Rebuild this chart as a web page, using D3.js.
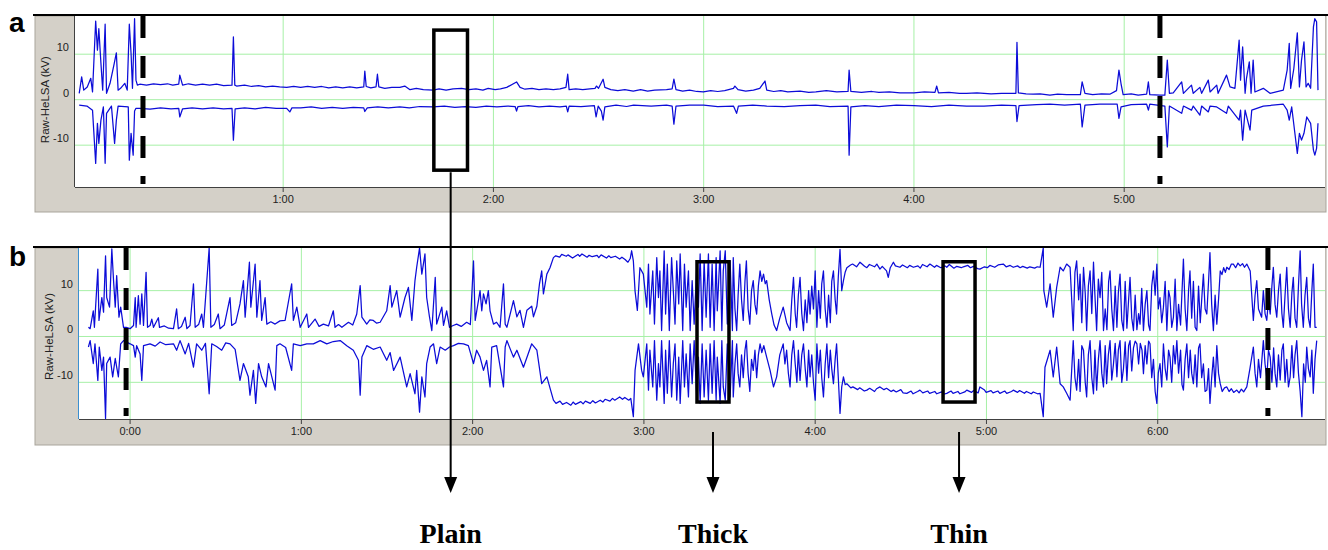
<!DOCTYPE html>
<html><head><meta charset="utf-8">
<script src="https://cdn.jsdelivr.net/npm/d3@7"></script>
<style>body{margin:0;background:#fff}svg{display:block}</style>
</head><body>
<svg id="c" width="1328" height="550"></svg>
<script>
// ---------- DATA (time in seconds, value in kV) ----------
const yTicks = [-10, 0, 10];
const xTicksA = [60, 120, 180, 240, 300];
const xTicksB = [0, 60, 120, 180, 240, 300, 360];
const tickLabel = s => Math.floor(s/60) + ":" + String(s%60).padStart(2,"0");

// Panel a: upper and lower traces
const aUpper = [[1.8,1.4],[2.5,5.0],[3.1,2.1],[4.1,2.8],[5.1,4.7],[5.6,1.7],[6.5,17.3],[7.0,10.9],[7.4,15.6],[8.0,8.0],[8.5,2.1],[9.2,16.6],[9.6,1.4],[10.6,3.6],[11.8,8.0],[12.4,10.3],[12.9,2.1],[13.6,2.5],[14.8,3.6],[15.5,2.1],[16.1,16.6],[16.6,10.1],[17.0,2.5],[17.6,17.8],[18.0,4.3],[18.4,3.2],[19.1,3.4],[21,3.2],[23,3.5],[25,3.3],[27,3.5],[28.5,3.2],[30.2,3.4],[30.5,5.4],[31.3,3.2],[33,3.5],[35,3.2],[37,3.4],[39,3.2],[41,3.4],[43,3.1],[45.4,3.2],[45.8,13.8],[46.2,3.2],[46.7,3.0],[49,3.2],[51,2.9],[53,3.1],[55,2.8],[57,3.0],[59,2.8],[61,2.7],[63,2.9],[65,2.7],[67,2.9],[69,2.7],[71,2.9],[73,2.6],[75,2.8],[77,2.6],[79,2.8],[81,2.6],[83,2.8],[83.3,6.3],[83.7,2.9],[85,2.6],[86.5,2.8],[86.9,5.6],[87.3,2.8],[89,2.5],[91,2.7],[93.3,2.7],[94.7,3.0],[96.2,2.2],[98,2.5],[100,2.2],[102.8,2.1],[104.5,2.4],[106.5,2.1],[108.5,2.4],[110.9,2.5],[113,2.2],[115,2.4],[117,2.1],[118.5,2.5],[120.5,2.2],[122,2.4],[123.8,2.7],[126.6,3.9],[127.6,2.7],[129,2.3],[131,2.5],[133,2.2],[135,2.4],[137.1,2.2],[139,2.4],[140.7,2.7],[141.2,5.6],[141.6,2.2],[143.5,2.4],[145.5,2.2],[147.5,2.4],[149,2.5],[149.4,3.0],[150,2.5],[151.3,4.5],[151.8,2.7],[153.5,2.2],[155.5,2.0],[157.5,2.2],[159.9,1.9],[162,2.2],[164,1.9],[166,2.1],[169.4,2.2],[171,2.4],[171.5,4.5],[172.1,2.2],[174,1.9],[176,2.1],[178,1.8],[179.9,1.7],[182,2.0],[184,1.8],[186,2.0],[188.5,2.5],[188.9,3.0],[189.8,2.2],[192,1.9],[194.2,2.1],[196,2.5],[197.5,4.1],[198,2.1],[200,1.8],[202,2.0],[204,1.7],[207.5,1.9],[210,1.6],[212,1.7],[215,2.0],[218,1.7],[221.2,1.8],[221.5,6.5],[222,1.8],[225,1.6],[228,1.8],[230,1.6],[233,1.7],[236,1.5],[240,1.5],[243,1.7],[246,1.6],[246.5,3.0],[247,1.5],[250,1.6],[253,1.4],[255,1.4],[258,1.5],[262,1.3],[265,1.4],[269.1,1.4],[269.4,12.6],[269.8,1.5],[272,1.3],[274,1.2],[276,1.3],[278.8,1.0],[281,1.2],[283.6,1.1],[287.5,1.1],[288,3.9],[288.8,1.4],[291,1.1],[293.5,1.3],[295.9,1.2],[297.8,2.0],[298.5,6.5],[299.1,3.5],[299.7,1.1],[302,1.3],[304,1.0],[306.4,1.2],[306.9,3.9],[307.3,1.1],[310.2,1.0],[311.6,1.0],[312.3,8.7],[312.9,1.4],[314,1.5],[316.4,3.9],[316.9,1.4],[319.2,3.2],[319.7,1.4],[321.6,2.7],[322.1,1.4],[324,4.3],[324.5,1.7],[326.4,3.2],[326.8,1.4],[329.2,5.4],[330.2,2.8],[331.6,2.5],[332.8,13.1],[333.2,4.3],[333.8,11.6],[334.5,1.4],[334.9,4.7],[335.7,8.3],[336.2,1.4],[336.8,8.7],[337.3,1.7],[339.7,2.5],[341.6,1.4],[345.4,2.1],[346.5,6.5],[347.1,12.4],[347.5,2.5],[348.4,6.8],[349.4,14.7],[350,2.8],[350.6,8.7],[351.3,12.7],[351.9,2.8],[352.5,3.6],[353.2,2.5],[354,16.0],[354.4,17.8],[354.9,17.1],[355.3,2.1]];
const aLower = [[1.8,-1.2],[4,-1.4],[5.6,-2.3],[6.5,-14.0],[7.0,-5.2],[7.4,-9.6],[8.0,-4.5],[8.7,-1.6],[9.2,-14.0],[9.6,-3.0],[11,-1.4],[11.9,-9.6],[12.4,-4.5],[12.9,-1.4],[15.8,-1.6],[16.1,-13.3],[16.6,-7.4],[17.2,-12.2],[17.6,-2.5],[18.0,-1.9],[19.1,-1.9],[22,-2.1],[25,-1.8],[28,-2.0],[30.2,-1.9],[30.5,-3.8],[31.3,-2.0],[34,-1.8],[37,-2.0],[40,-1.8],[43,-2.0],[45.4,-1.9],[45.8,-8.9],[46.3,-2.0],[49,-1.8],[52,-2.0],[55,-1.7],[58,-1.9],[61,-1.9],[61.9,-2.7],[62.5,-1.8],[65,-1.8],[68,-1.6],[71,-1.9],[74,-1.7],[77,-1.9],[80,-1.7],[83,-1.8],[83.3,-2.6],[84,-1.8],[87,-1.6],[90,-1.8],[93.3,-1.6],[96,-1.8],[99,-1.5],[102.8,-1.6],[106,-1.4],[109,-1.7],[112,-1.5],[115,-1.7],[118,-1.4],[121,-1.6],[124,-1.4],[126.2,-1.5],[126.6,-2.5],[127,-1.5],[130,-1.3],[133,-1.6],[136,-1.4],[139,-1.6],[140.8,-1.4],[141.2,-2.7],[141.6,-1.4],[145,-1.5],[148.8,-1.3],[149.3,-3.8],[149.9,-1.4],[150.8,-2.5],[151.3,-4.5],[151.8,-1.6],[155,-1.2],[158,-1.5],[160,-1.2],[165,-1.4],[169.4,-1.2],[171,-1.4],[171.5,-5.4],[172.1,-1.4],[176,-1.2],[180,-1.2],[184,-1.5],[188.5,-1.4],[189.4,-3.0],[189.9,-1.4],[194,-1.2],[198,-1.4],[203,-1.5],[207.5,-1.3],[212,-1.2],[216,-1.5],[221.2,-1.4],[221.5,-12.2],[222,-1.6],[226,-1.3],[230,-1.5],[235,-1.2],[240,-1.3],[245,-1.5],[250,-1.2],[255,-1.4],[260,-1.4],[265,-1.2],[269.1,-1.3],[269.4,-4.8],[270,-1.3],[275,-1.1],[278.8,-1.0],[283,-1.2],[287.5,-1.0],[288,-6.0],[288.8,-1.2],[293,-1.0],[298,-1.0],[298.5,-4.1],[299.1,-1.6],[302,-1.1],[306.4,-1.0],[306.9,-2.3],[307.3,-1.0],[311.6,-1.4],[312.3,-10.4],[312.9,-1.4],[316.4,-3.0],[316.9,-1.4],[319.2,-2.3],[319.7,-1.4],[321.6,-3.4],[322.1,-1.4],[324,-2.7],[324.5,-1.4],[326.4,-1.6],[329.2,-3.0],[329.7,-1.4],[332.8,-4.5],[333.2,-2.3],[333.8,-8.9],[334.5,-2.3],[335.9,-6.7],[336.4,-2.3],[339.7,-1.4],[345.4,-1.0],[346.5,-2.3],[347.1,-4.5],[347.8,-1.6],[349.4,-11.8],[350,-7.4],[350.6,-8.9],[351.3,-7.4],[352.1,-3.8],[353.2,-5.2],[354,-11.1],[354.4,-12.2],[354.9,-10.7],[355.3,-5.2]];

// Panel b: upper and lower traces
const bUpper = [[-14.6,2.0],[-14.0,1.7],[-12.9,5.6],[-12.5,2.0],[-11.3,14.7],[-10.9,3.5],[-9.9,8.5],[-9.3,5.3],[-8.6,17.6],[-8.2,8.5],[-7.2,6.4],[-6.4,19.1],[-5.8,12.2],[-5.2,6.4],[-4.7,13.3],[-3.9,4.2],[-3.3,6.4],[-2.3,2.0],[-1.4,2.0],[0,1.7],[1.2,2.4],[1.8,8.5],[2.1,2.0],[2.9,8.9],[3.5,2.7],[4.1,9.3],[4.7,2.4],[5.6,14.0],[6.1,2.0],[7.0,2.4],[7.6,3.8],[8.2,2.0],[9.9,4.1],[10.3,2.0],[12,2.3],[13.5,1.8],[15.2,1.7],[16.3,6.0],[16.9,1.7],[18,2.2],[19.3,4.2],[19.9,1.7],[21,2.4],[22.2,11.5],[22.8,2.0],[24,2.6],[25.1,4.9],[25.7,2.0],[27.7,19.3],[28.3,2.0],[29.5,2.6],[30.9,4.9],[31.5,1.7],[33,2.5],[35.0,8.5],[35.6,2.4],[37,3.0],[38.5,7.1],[39.7,12.2],[40.3,4.2],[41.8,16.2],[42.3,6.4],[43.8,15.8],[44.4,4.2],[45.5,12.2],[46.1,3.5],[47.3,8.5],[47.9,2.7],[49.3,3.2],[50.8,2.7],[52.5,3.4],[54.3,3.5],[56.6,11.5],[57.2,3.5],[58.4,6.4],[59.6,2.0],[61.9,4.9],[62.5,2.0],[64.8,3.8],[66.2,2.2],[67.7,2.7],[69.5,2.3],[71.2,5.6],[71.8,2.0],[73,2.6],[74.2,2.0],[76.5,3.1],[78,2.5],[79.4,4.9],[80.6,11.1],[81.2,4.2],[82.9,2.7],[84,3.6],[85.2,3.5],[86.4,2.9],[87.6,3.1],[89.9,5.6],[91.1,11.1],[91.7,6.4],[93.4,10.0],[94.6,4.2],[96.3,8.5],[97.5,10.7],[98.7,3.5],[99.8,12.2],[100.4,15.1],[101.4,19.3],[102.2,13.6],[103.3,18.0],[103.9,8.5],[104.9,4.2],[105.7,1.3],[106.9,12.9],[107.4,2.7],[109.2,6.4],[109.8,2.4],[110.9,5.6],[111.9,2.0],[113.2,2.4],[114.4,2.7],[116,2.2],[117.9,3.1],[119.2,2.6],[120.3,16.5],[120.9,3.5],[122.6,10.0],[123.2,5.6],[123.8,9.3],[124.7,7.1],[125.5,10.0],[126.1,5.6],[127.3,2.7],[128.4,3.1],[129.6,2.0],[130.8,11.5],[131.4,2.7],[132,2.0],[134.3,7.8],[135.5,4.3],[136.6,5.7],[137.8,2.0],[139,5.7],[140.7,6.6],[141.3,4.3],[142.5,6.6],[143.4,11.4],[144.2,14.3],[144.8,9.3],[146,13.6],[147.1,15],[148.3,17.2],[149.1,17.6],[150.5,17.3],[151.2,17.9],[152.8,17.5],[153.4,17.8],[155,17.1],[156.9,17.9],[157.5,17.5],[158.3,18.0],[160.1,17.3],[160.8,17.7],[161.9,17.4],[163.6,17.7],[164.2,17.2],[165.0,17.8],[166.9,17.1],[167.7,17.6],[168.4,17.2],[170,17.5],[171.5,16.9],[172.3,17.3],[173.4,16.8],[174.4,16.2],[175.2,17.0],[175.7,18.7],[176.3,16.5],[176.9,9.9],[177.7,5.7],[178.6,15],[179.8,13.6],[181.0,6.4],[181.6,15.8],[182.1,4.9],[183.1,14.3],[183.7,2.7],[184.5,17.2],[185.1,8.5],[185.6,14.3],[186.2,1.3],[187.1,18.7],[187.6,4.9],[188.2,15.8],[188.9,1.3],[189.7,17.2],[190.3,10.0],[190.9,2.7],[191.5,16.5],[192.2,7.1],[192.7,18.0],[193.6,1.3],[194.2,15.8],[194.8,6.4],[195.6,14.3],[196.2,1.3],[196.9,12.2],[197.6,2.7],[198.5,15.1],[199.1,6.4],[199.7,18.0],[200.4,1.3],[201.1,16.5],[201.8,4.2],[202.6,18.0],[203.2,2.0],[203.9,15.8],[204.6,1.3],[205.3,17.2],[205.7,5.6],[206.7,18.7],[207.3,1.3],[207.8,14.3],[208.5,18.7],[209.2,2.7],[210.2,16.5],[211.0,1.3],[211.3,17.2],[211.9,6.0],[212.5,1.3],[213.0,9.0],[213.6,15.8],[214.2,8.0],[214.8,3.5],[215.4,12.0],[215.9,16.5],[216.5,6.0],[217.1,2.7],[217.7,10.0],[218.3,12.2],[218.9,7.0],[219.5,4.9],[220.1,11.0],[220.7,14.3],[221.3,12.0],[221.9,13.6],[222.5,11.5],[223,12.2],[223.9,8.0],[224.8,4.9],[225.6,2.5],[226.5,1.3],[227.6,4.0],[228.8,6.4],[230,3.0],[231.2,1.3],[231.8,8.0],[232.4,12.9],[233,5.0],[233.5,2.0],[234.1,9.0],[234.7,12.9],[235.3,5.0],[235.9,1.3],[236.5,8.0],[237.1,3.0],[237.7,10.0],[238.2,4.9],[238.8,11.0],[239.4,6.0],[240,14.3],[240.6,2.0],[241.2,10.0],[241.8,4.0],[242.3,11.5],[242.9,14.3],[243.5,6.0],[244.1,2.0],[244.7,9.0],[245.3,3.0],[245.8,12.0],[246.4,14.3],[247,8.0],[247.5,4.9],[248.1,13.0],[248.7,19.0],[249.3,10.0],[249.9,12.2],[250.5,14.0],[251.1,15],[252.4,15.6],[253.1,15.8],[254.5,15.2],[255.7,16.2],[257.3,15.3],[258.1,15],[259,15.7],[260.8,15.2],[261.6,15.8],[262.7,14.7],[263.5,15.3],[265.0,14.3],[265.6,12.9],[266.3,15.0],[267.4,16.2],[268.1,15.4],[269.7,15.1],[270.6,15.6],[272.3,15.0],[273.1,15.5],[274.4,15.1],[276.0,15.4],[276.8,14.9],[277.6,15.7],[279.2,15.2],[280.2,15.8],[281.8,15.1],[282.5,15.5],[284,15.0],[285.5,15.4],[286.1,15.1],[287.0,15.7],[288.6,14.9],[289.6,15.3],[291.2,15.0],[291.9,15.2],[293.5,15.5],[294.4,15.0],[295.4,15.3],[296.9,14.8],[297.7,14.7],[299.3,15.2],[300.3,15.0],[301.2,15.5],[302.9,15.1],[304.1,15.6],[305.9,15.8],[306.9,15.2],[308.3,15.5],[309.4,15.1],[310.9,15.4],[311.8,15.0],[312.7,15.3],[314.3,14.9],[315.2,15.2],[316.9,14.9],[317.8,15.2],[318.8,15.1],[319.9,19.3],[320.1,10.0],[321.1,6.4],[322.3,11.5],[323.4,4.2],[324.6,10.7],[325.8,15.1],[326.9,14.3],[328.1,15.8],[329.3,15.1],[330.4,1.3],[331.0,14.0],[331.6,16.5],[332.3,8.0],[332.8,13.6],[333.4,3.0],[334,15.1],[334.6,9.5],[335.1,1.3],[335.7,11.0],[336.3,14.3],[336.9,5.0],[337.5,16.2],[338.0,9.0],[338.6,1.3],[339.2,12.5],[339.8,8.5],[340.4,14.0],[341,1.3],[341.6,6.0],[342.2,1.5],[342.8,12.0],[343.3,14.3],[343.9,6.0],[344.5,1.3],[345.1,11.0],[345.7,2.0],[346.2,9.5],[346.8,13.6],[347.4,3.5],[348,1.3],[348.6,12.0],[349.2,1.8],[349.8,8.0],[350.3,12.9],[350.9,4.0],[351.5,1.3],[352.1,9.0],[352.7,1.5],[353.3,5.0],[353.8,2.7],[354.4,10.5],[355,1.3],[355.6,7.0],[356.2,10],[356.8,2.5],[357.3,1.3],[357.9,11.0],[358.5,14.3],[359.1,9.0],[359.7,15.8],[360.2,6.0],[360.8,8.5],[361.4,3.0],[362,6.4],[362.6,12.0],[363.2,1.3],[363.8,10.0],[364.3,8.5],[364.9,2.0],[365.5,4.2],[366.1,12.5],[366.7,1.3],[367.3,7.0],[368.0,2.5],[369,16.9],[369.6,6.0],[370.2,1.3],[370.8,10.0],[371.3,14.3],[371.9,4.0],[372.5,12.0],[373.1,2.0],[373.7,1.3],[374.3,11.0],[374.9,3.0],[375.5,9.0],[376,13.6],[376.6,6.0],[377.2,4.9],[377.8,12.0],[378.3,18.3],[378.9,7.0],[379.5,1.3],[380.1,9.0],[380.7,2.7],[381.3,8.0],[381.9,14.3],[382.5,13.5],[383.1,15.0],[383.7,14.0],[384.2,15.1],[385.0,14.6],[385.8,15.8],[386.5,15.8],[387.3,15.0],[388.1,16.0],[388.9,15.4],[389.7,15.9],[390.4,15.1],[391.2,15.8],[392.4,14.3],[393.5,3.5],[394.1,9.0],[394.7,12.2],[395.3,6.0],[396.4,4.2],[397,10],[397.6,5.0],[398.2,3.5],[398.8,8.0],[399.4,4.9],[400,11.0],[400.5,15.1],[401.1,7.0],[401.7,4.2],[402.3,10.0],[402.9,13.6],[403.5,5.0],[404,2.0],[404.6,9.0],[405.2,15.1],[405.8,6.0],[406.4,2.0],[407,9.5],[407.5,12.9],[408.1,4.0],[408.7,2.0],[409.3,11.0],[409.9,18.7],[410.4,7.0],[411,2.0],[411.6,9.0],[412.2,12.9],[412.8,4.0],[413.4,2.0],[414,10.0],[414.5,15.8],[415.1,2.0],[415.7,2.0]];
const bLower = [[-14.6,-2.3],[-14.0,-0.9],[-12.9,-5.9],[-12.3,-1.6],[-11.3,-9.6],[-10.8,-2.3],[-9.9,-7.4],[-9.3,-4.5],[-8.6,-17.9],[-8.2,-5.9],[-7.0,-4.5],[-6.1,-8.8],[-5.2,-4.8],[-4.7,-6.7],[-4.1,-8.8],[-3.3,-1.6],[-2.3,-0.9],[0,-1.6],[1.2,-2.0],[1.8,-4.5],[2.3,-2.0],[3.5,-3.8],[4.1,-9.6],[4.7,-2.0],[7.0,-1.6],[8.8,-2.1],[10.5,-1.2],[12.5,-1.8],[15.2,-1.6],[16.3,-3.0],[17.5,-0.9],[19.3,-3.8],[20.5,-1.5],[22.2,-6.7],[23.3,-1.6],[25.1,-3.0],[26.4,-1.5],[27.7,-12.5],[28.6,-1.6],[30.3,-2.2],[32.1,-3.0],[33.5,-1.4],[35,-1.6],[36.8,-2.8],[38.5,-9.6],[39.7,-5.9],[41.4,-8.8],[42.0,-12.8],[43.2,-7.4],[44.0,-14.6],[45.0,-5.9],[46.1,-8.8],[47.6,-11.0],[48.5,-5.9],[50.8,-11.7],[51.4,-2.0],[52.5,-1.6],[54.5,-2.4],[56.6,-7.4],[57.2,-1.6],[59.6,-2.0],[61.9,-1.6],[64.2,-1.6],[66.6,-0.9],[68.9,-1.6],[71.2,-1.1],[73.6,-0.9],[75.9,-2.0],[78.2,-3.0],[80.0,-5.2],[80.6,-12.8],[81.2,-4.5],[82.9,-2.0],[85.2,-2.8],[87.6,-2.3],[89.9,-5.2],[91.1,-3.5],[92.3,-7.4],[94.6,-4.5],[96.9,-11.0],[98.1,-8.1],[99.8,-12.5],[100.4,-7.4],[101.4,-16.5],[102.2,-8.8],[103.3,-13.2],[103.9,-5.9],[105.1,-2.3],[106.3,-1.6],[107.4,-5.9],[108.6,-2.3],[110.4,-3.0],[111.9,-2.3],[113.3,-2.0],[115,-1.5],[116.8,-1.6],[118.5,-2.0],[120.3,-5.9],[121.4,-3.0],[122.6,-4.5],[123.8,-7.4],[124.9,-5.2],[126.1,-11.0],[126.7,-2.3],[128.4,-2.0],[130.8,-11.0],[131.4,-2.3],[132,-0.9],[134.3,-4.5],[135.5,-3.0],[137.8,-6.7],[140.7,-1.6],[142.5,-3.0],[144.2,-10.3],[146,-8.8],[148.3,-13.9],[149.2,-14.6],[150.6,-14.1],[151.5,-14.8],[152.9,-14.4],[154.4,-15.0],[155.2,-14.3],[156.0,-14.8],[157.9,-14.2],[158.7,-14.7],[159.5,-14.1],[161.2,-14.6],[162.1,-14.0],[163.0,-14.5],[164.7,-13.9],[165.6,-14.3],[166.4,-13.7],[168.1,-14.1],[169,-13.5],[169.8,-13.9],[171.5,-13.2],[172.5,-13.7],[173.3,-13.3],[174.7,-13.9],[175.4,-13.5],[176.3,-17.5],[176.9,-7.4],[178.1,-1.6],[179.2,-7.4],[179.8,-8.8],[181.0,-1.6],[181.6,-11.7],[182.1,-3.0],[183.1,-11.0],[183.7,-0.9],[184.5,-13.9],[185.1,-5.9],[185.6,-11.0],[186.2,-0.9],[187.1,-14.6],[187.6,-3.0],[188.2,-12.4],[188.9,-0.9],[189.7,-13.2],[190.3,-5.9],[190.9,-1.6],[191.5,-13.9],[192.2,-4.5],[192.7,-14.6],[193.6,-0.9],[194.2,-11.0],[194.8,-3.8],[195.6,-13.2],[196.2,-1.6],[196.9,-10.3],[197.6,-0.9],[198.5,-13.2],[199.1,-4.5],[199.7,-14.6],[200.4,-1.6],[201.1,-13.2],[201.8,-3.0],[202.6,-13.9],[203.2,-1.6],[203.9,-12.4],[204.6,-0.9],[205.3,-13.9],[205.7,-4.5],[206.7,-14.6],[207.3,-0.9],[207.8,-11.0],[208.5,-13.9],[209.2,-1.6],[210.2,-13.2],[211.0,-0.9],[211.3,-13.2],[211.9,-6.0],[212.5,-1.6],[213.0,-8.0],[213.6,-11.0],[214.2,-4.0],[214.8,-9.0],[215.4,-3.0],[215.9,-0.9],[216.5,-8.0],[217.1,-12.0],[217.7,-5.0],[218.3,-7.4],[218.9,-3.0],[219.5,-9.0],[220.1,-4.0],[220.7,-1.6],[221.3,-3.5],[222,-2.0],[223,-4.5],[224.2,-7.4],[225.4,-11.0],[226.5,-8.8],[227.6,-4.0],[228.8,-1.6],[229.4,-6.0],[230,-3.0],[230.6,-8.0],[231.2,-11.0],[231.8,-4.0],[232.4,-0.9],[233,-6.0],[233.6,-10.0],[234.1,-3.0],[234.7,-9.6],[235.3,-4.0],[235.9,-1.6],[236.5,-7.0],[237.1,-11.0],[237.7,-3.0],[238.2,-8.8],[238.8,-4.0],[239.4,-10.0],[240,-13.9],[240.6,-1.6],[241.2,-8.0],[241.8,-3.0],[242.3,-9.0],[242.9,-13.2],[243.5,-6.0],[244.1,-1.6],[244.7,-9.0],[245.3,-3.0],[245.8,-7.0],[246.4,-10.3],[247,-5.0],[247.5,-1.6],[248.1,-9.0],[248.7,-16.8],[249.3,-11.0],[249.9,-8.8],[250.5,-10.5],[251.1,-10.3],[252.5,-11.2],[253.2,-11.0],[254.9,-11.6],[255.6,-11.2],[257.2,-11.9],[258.1,-11.7],[259.1,-11.3],[260.8,-12.0],[261.5,-11.4],[262.7,-11.0],[264.1,-11.6],[265.0,-11.3],[266.6,-12.0],[267.4,-11.7],[268.4,-12.1],[270.0,-11.6],[270.8,-12.3],[272.1,-12.4],[273.6,-11.9],[274.3,-12.5],[275.9,-12.0],[276.7,-11.7],[277.7,-12.3],[279.4,-11.9],[280.1,-12.4],[281.9,-12.0],[282.6,-12.5],[284.3,-12.1],[285.0,-12.6],[286.1,-12.4],[287.6,-11.9],[288.3,-12.4],[290.0,-12.0],[290.7,-12.5],[292.4,-12.1],[293.1,-11.7],[294.8,-12.2],[295.5,-11.8],[297.1,-12.3],[297.7,-11.0],[299.2,-11.6],[299.9,-12.2],[301.6,-11.8],[302.3,-12.3],[304.0,-11.9],[304.7,-12.4],[306.4,-11.9],[307.1,-12.4],[308.8,-12.0],[309.4,-11.7],[310.9,-12.2],[311.6,-11.8],[313.3,-12.4],[314.0,-12.0],[315.7,-12.5],[316.4,-12.1],[317.9,-12.5],[318.8,-12.4],[319.9,-17.5],[320.5,-6.7],[322.3,-3.0],[323.4,-8.8],[324.6,-2.3],[325.8,-10.3],[326.9,-11.0],[328.1,-12.4],[329.3,-13.9],[330.4,-0.9],[331.0,-9.0],[331.6,-11.7],[332.3,-5.0],[332.8,-12.0],[333.4,-2.0],[334,-3.0],[334.6,-10.0],[335.1,-13.2],[335.7,-4.0],[336.3,-0.9],[336.9,-9.0],[337.5,-12.5],[338.0,-3.0],[338.6,-11.7],[339.2,-5.0],[339.8,-0.9],[340.4,-8.0],[341,-11.0],[341.6,-2.0],[342.1,-10.3],[342.7,-4.0],[343.3,-0.9],[343.9,-9.5],[344.5,-6.0],[345.1,-1.5],[345.7,-8.8],[346.2,-3.0],[346.8,-0.9],[347.4,-10.0],[348,-7.0],[348.6,-1.2],[349.2,-9.6],[349.8,-2.0],[350.3,-0.9],[350.9,-7.5],[351.5,-2.5],[352.1,-1.0],[352.7,-1.6],[353.3,-6.0],[353.9,-1.5],[354.5,-3.0],[355,-8.1],[355.6,-2.0],[356.2,-6.0],[356.8,-1.0],[357.3,-1.6],[357.9,-9.0],[358.5,-5.0],[359.1,-12.0],[359.7,-14.6],[360.2,-8.0],[360.8,-5.9],[361.4,-11.0],[362,-1.6],[362.6,-7.0],[363.2,-9.5],[363.8,-3.0],[364.3,-4.5],[364.9,-10.0],[365.5,-2.0],[366.1,-6.0],[366.7,-0.9],[367.3,-8.0],[368,-3.0],[368.5,-10.5],[369,-11.7],[369.6,-5.0],[370.2,-1.6],[370.8,-9.0],[371.4,-3.0],[371.9,-8.0],[372.5,-10.3],[373.1,-4.0],[373.7,-11.0],[374.3,-2.5],[374.8,-1.6],[375.4,-9.0],[376,-6.0],[376.6,-12.0],[377.2,-11.7],[377.8,-7.0],[378.3,-14.6],[378.9,-9.0],[379.5,-4.5],[380.1,-11.0],[380.7,-2.0],[381.3,-8.0],[381.9,-10.3],[382.6,-12.0],[383.4,-11.2],[384.2,-11.0],[385,-12.0],[385.8,-11.4],[386.6,-12.2],[387.7,-11.7],[388.5,-12.3],[389.3,-11.5],[390.1,-12.1],[391.2,-11.0],[392.3,-7.0],[393.5,-2.3],[394.1,-8.0],[394.7,-11.0],[395.3,-5.0],[396.0,-9.0],[397,-0.9],[397.6,-6.0],[398.2,-9.0],[398.8,-3.0],[399.4,-4.5],[400,-10.0],[400.6,-2.5],[401.1,-8.0],[401.7,-11.0],[402.3,-4.0],[402.9,-9.5],[403.5,-3.0],[404,-1.6],[404.6,-10.0],[405.2,-5.0],[405.8,-11.0],[406.4,-8.8],[407,-2.0],[407.6,-9.0],[408.1,-4.0],[408.7,-0.9],[409.3,-8.0],[409.9,-12.0],[410.5,-17.5],[411.1,-6.0],[411.7,-10.0],[412.2,-2.3],[412.8,-7.0],[413.4,-8.8],[414,-3.0],[414.5,-12.4],[415.1,-5.0],[415.7,-0.9]];

// Annotations (data units)
const aMarkers = [20, 310.2];
const bMarkers = [-1.4, 398.6];
const aBoxes = [[103, 112.6, -15.5, 15.3]];
const bBoxes = [[198.6, 209.8, -14.3, 16.3], [284.8, 296, -14.3, 16.3]];
const labels = ["Plain", "Thick", "Thin"];

// ---------- DRAW ----------
const svg = d3.select("#c");
const GRAY = "#d4d0c8", GRID = "#a6f0a6", TRACE = "#0c0cd8";
const SANS = "Liberation Sans, Arial, sans-serif";

function panel(cfg) {
  const g = svg.append("g");
  g.append("rect").attr("x", 35).attr("y", cfg.top + 1).attr("width", 1291).attr("height", cfg.grayBottom - cfg.top - 1)
    .attr("fill", GRAY).attr("stroke", "#a9a59c").attr("stroke-width", 1);
  g.append("line").attr("x1", 33).attr("x2", 1328).attr("y1", cfg.top).attr("y2", cfg.top)
    .attr("stroke", "#000").attr("stroke-width", 2);
  const x = d3.scaleLinear().domain(cfg.xDomain).range([cfg.left, 1325]);
  const y = d3.scaleLinear().domain(cfg.yDomain).range([cfg.bottom, cfg.top + 1]);
  g.append("rect").attr("x", cfg.left).attr("y", cfg.top + 1).attr("width", 1325 - cfg.left)
    .attr("height", cfg.bottom - cfg.top - 1).attr("fill", "#fff");
  const cid = "clip" + cfg.id;
  svg.append("clipPath").attr("id", cid).append("rect").attr("x", cfg.left).attr("y", cfg.top + 1)
    .attr("width", 1325 - cfg.left).attr("height", cfg.bottom - cfg.top - 1);
  g.selectAll(".vg").data(cfg.xTicks).join("line").attr("x1", d => x(d)).attr("x2", d => x(d))
    .attr("y1", cfg.top + 1).attr("y2", cfg.bottom).attr("stroke", GRID).attr("stroke-width", 1);
  g.selectAll(".hg").data(yTicks).join("line").attr("x1", cfg.left).attr("x2", 1325)
    .attr("y1", d => y(d)).attr("y2", d => y(d)).attr("stroke", GRID).attr("stroke-width", 1);
  const line = d3.line().x(d => x(d[0])).y(d => y(d[1]));
  const tg = g.append("g").attr("clip-path", `url(#${cid})`);
  cfg.series.forEach(s => tg.append("path").attr("d", line(s)).attr("fill", "none")
    .attr("stroke", TRACE).attr("stroke-width", 1.25).attr("stroke-linejoin", "round"));
  g.append("line").attr("x1", cfg.left).attr("x2", 1325).attr("y1", cfg.bottom + 0.5).attr("y2", cfg.bottom + 0.5)
    .attr("stroke", "#404040");
  g.append("line").attr("x1", cfg.left - 0.5).attr("x2", cfg.left - 0.5).attr("y1", cfg.top + 1).attr("y2", cfg.bottom)
    .attr("stroke", cfg.leftColor);
  g.selectAll(".xt").data(cfg.xTicks).join("line").attr("x1", d => x(d)).attr("x2", d => x(d))
    .attr("y1", cfg.bottom).attr("y2", cfg.bottom + 5).attr("stroke", "#404040");
  g.selectAll(".xl").data(cfg.xTicks).join("text").attr("x", d => x(d)).attr("y", cfg.bottom + 16)
    .attr("text-anchor", "middle").attr("font-family", SANS)
    .attr("font-size", 11).attr("fill", "#222").text(tickLabel);
  g.selectAll(".yl").data(yTicks).join("text").attr("x", cfg.left - 6).attr("y", d => y(d) - 3)
    .attr("text-anchor", "end").attr("font-family", SANS)
    .attr("font-size", 11).attr("fill", "#222").text(d => d);
  g.append("text").attr("transform", `translate(${cfg.left - 26},${y(0)}) rotate(-90)`)
    .attr("text-anchor", "middle").attr("font-family", SANS)
    .attr("font-size", 11.5).attr("fill", "#222").text("Raw-HeLSA (kV)");
  g.selectAll(".mk").data(cfg.markers).join("line").attr("x1", d => x(d)).attr("x2", d => x(d))
    .attr("y1", cfg.top + 1).attr("y2", cfg.bottom - 3).attr("stroke", "#000").attr("stroke-width", 5)
    .attr("stroke-dasharray", "22,18");
  g.selectAll(".bx").data(cfg.boxes).join("rect").attr("x", d => x(d[0])).attr("y", d => y(d[3]))
    .attr("width", d => x(d[1]) - x(d[0])).attr("height", d => y(d[2]) - y(d[3]))
    .attr("fill", "none").attr("stroke", "#000").attr("stroke-width", 3.5);
  svg.append("text").attr("x", 9).attr("y", cfg.top + cfg.letterDy).attr("font-family", SANS)
    .attr("font-weight", "bold").attr("font-size", 28).text(cfg.id);
  return { x, y };
}

const A = panel({ id: "a", top: 15, bottom: 187, grayBottom: 212, left: 75, xDomain: [0.6, 357.3], yDomain: [-19.2, 18.4],
  xTicks: xTicksA, series: [aUpper, aLower], markers: aMarkers, boxes: aBoxes, leftColor: "#404040", letterDy: 17 });
const B = panel({ id: "b", top: 247, bottom: 419, grayBottom: 445, left: 79, xDomain: [-17.9, 418.6], yDomain: [-18, 19.3],
  xTicks: xTicksB, series: [bUpper, bLower], markers: bMarkers, boxes: bBoxes, leftColor: "#3b8fd0", letterDy: 19 });

const arrows = [
  { x: (A.x(aBoxes[0][0]) + A.x(aBoxes[0][1])) / 2, y0: A.y(aBoxes[0][2]) + 2 },
  { x: (B.x(bBoxes[0][0]) + B.x(bBoxes[0][1])) / 2, y0: 432 },
  { x: (B.x(bBoxes[1][0]) + B.x(bBoxes[1][1])) / 2, y0: 432 }
];
const tipY = 493;
arrows.forEach((a, i) => {
  svg.append("line").attr("x1", a.x).attr("x2", a.x).attr("y1", a.y0).attr("y2", tipY - 12)
    .attr("stroke", "#000").attr("stroke-width", 2);
  svg.append("path").attr("d", `M${a.x - 6.5},${tipY - 16} L${a.x + 6.5},${tipY - 16} L${a.x},${tipY} Z`).attr("fill", "#000");
  svg.append("text").attr("x", a.x).attr("y", 543).attr("text-anchor", "middle")
    .attr("font-family", "Liberation Serif, Times New Roman, serif").attr("font-weight", "bold")
    .attr("font-size", 28).text(labels[i]);
});
</script>
</body></html>
